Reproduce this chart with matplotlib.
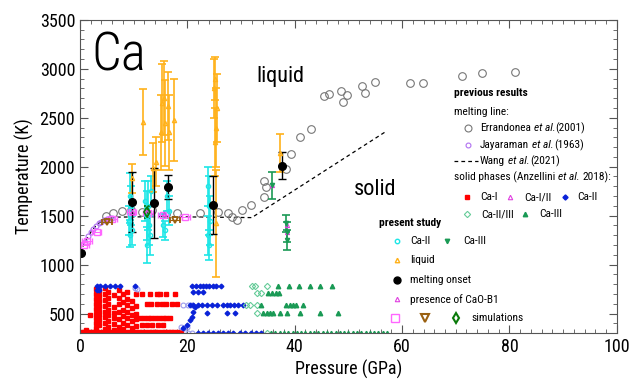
import matplotlib
matplotlib.use("Agg")
import matplotlib.pyplot as plt
from matplotlib.ticker import MultipleLocator

plt.rcParams['font.family'] = ['Roboto Condensed', 'DejaVu Sans']

# ---------------- previous results: melting line ----------------
# Errandonea et al. (2001)
erran_p = [4.8, 6.2, 7.8, 9.5, 11.5, 13.5, 16.0, 18.0, 22.3, 25.7, 27.6, 28.3, 29.2, 30.2, 31.8,
           34.3, 34.6, 34.3, 38.4, 39.4, 41.0, 43.0, 45.4, 46.4, 48.6, 49.7, 49.0, 52.5, 53.1,
           54.9, 61.5, 63.9, 71.1, 74.9, 81.0]
erran_t = [1500, 1527, 1547, 1560, 1540, 1560, 1520, 1527, 1527, 1537, 1527, 1490, 1455, 1557, 1608,
           1690, 1795, 1855, 1977, 2130, 2304, 2386, 2723, 2744, 2775, 2734, 2662, 2826, 2754,
           2867, 2856, 2856, 2928, 2958, 2969]
# Jayaraman et al. (1963)
jaya_p = [1.0, 1.5, 2.0, 2.5, 3.0, 3.5, 4.0, 4.5, 5.0, 5.5, 6.0]
jaya_t = [1230, 1290, 1330, 1365, 1395, 1420, 1440, 1455, 1465, 1475, 1480]
# Wang et al. (2021)
wang_p = [0, 1, 2, 3, 4, 5, 7, 15, 32, 57]
wang_t = [1120, 1240, 1330, 1400, 1445, 1470, 1485, 1490, 1480, 2360]

# ---------------- solid phases (Anzellini et al. 2018) ----------------
ca1_pts = (
    [(p, 310) for p in [0.2, 0.8, 1.4, 2.0, 2.6, 3.2, 3.8, 4.4, 5.0, 5.6, 6.2, 6.8, 7.4, 8.0, 8.6,
                        9.2, 9.8, 10.4, 11.0, 11.6, 12.2, 12.8, 13.4, 14.0, 14.6, 15.2, 15.8,
                        16.4, 17.0, 17.6, 18.2, 18.8]]
    + [(2.9, t) for t in [350, 400, 450, 500, 550, 600, 650, 700, 750]]
    + [(3.5, t) for t in [380, 430, 480, 530, 580, 630, 680, 730]]
    + [(4.6, t) for t in [340, 400, 460, 520, 580, 640, 700, 760]]
    + [(5.3, t) for t in [360, 420, 480, 540, 600, 660, 720]]
    + [(6.3, t) for t in [330, 390, 450, 510, 570, 690]]
    + [(7.2, t) for t in [360, 440, 520, 600, 660, 740]]
    + [(8.0, t) for t in [340, 400, 470, 540, 620, 700]]
    + [(8.8, t) for t in [380, 450, 520, 590, 650, 720]]
    + [(9.6, t) for t in [350, 420, 490, 560, 630]]
    + [(10.4, t) for t in [370, 440, 500, 580, 700]]
    + [(p, 455) for p in [11.2, 11.9, 12.6, 13.3, 14.0, 14.7, 15.4, 16.1, 16.8]]
    + [(p, 600) for p in [12.4, 13.3, 14.3, 15.2, 16.1, 17.1, 18.0]]
    + [(p, 700) for p in [11.5, 13.0, 14.3, 14.9, 16.1, 17.7]]
    + [(p, 380) for p in [11.5, 12.5, 13.5, 14.5, 15.5]]
    + [(1.9, 484), (1.2, 330)]
)
ca12_pts = [(10.7, 750), (10.2, 760), (19.2, 586), (20.2, 586), (20.8, 590), (18.9, 360),
            (19.4, 350), (19.9, 365), (20.2, 305), (20.8, 305)]
ca2_pts = (
    [(p, 780) for p in [3.1, 3.7, 4.6, 5.5, 6.5, 7.4, 10.2, 20.8, 21.7, 22.3, 22.9, 23.5, 24.1,
                        24.8, 25.4, 26.3]]
    + [(3.2, 740), (3.6, 740), (21.1, 722), (22.0, 722), (22.9, 722)]
    + [(p, 586) for p in [20.5, 21.1, 22.0, 22.7, 23.6, 24.5, 25.5, 26.7, 27.3, 27.9, 28.6,
                          29.5, 30.3]]
    + [(19.2, 348), (19.9, 382), (20.5, 433), (20.8, 467), (21.1, 518), (21.4, 569)]
    + [(23.6, 501), (27.3, 501), (28.8, 501)]
    + [(p, 303) for p in [22.0, 22.9, 23.8, 24.8, 25.7, 26.6, 27.6, 28.5, 29.8, 30.7, 31.9,
                          32.8, 33.8]]
)
ca23_pts = [(32.0, 780), (32.6, 780), (34.9, 780), (32.9, 712), (33.8, 712), (31.0, 586),
            (31.7, 586), (33.0, 586), (32.9, 508), (34.9, 300)]
ca3_pts = (
    [(p, 780) for p in [36.9, 38.9, 40.8, 42.8, 44.8, 46.9]]
    + [(p, 712) for p in [35.1, 35.7, 36.6, 37.1]]
    + [(p, 586) for p in [33.8, 38.4, 39.1, 39.7, 40.3, 41.5]]
    + [(p, 508) for p in [34.1, 34.8, 35.4, 36.0, 37.2, 38.5, 41.0, 44.7, 48.1]]
    + [(p, 305) for p in [35.6, 36.4, 37.2, 38.0, 38.8, 39.6, 40.4, 41.2, 42.0, 42.8, 43.6,
                          44.4, 45.2, 46.0, 46.8, 47.6, 48.4, 49.2, 50.0, 50.8, 51.6, 52.4,
                          53.2, 54.0, 54.8, 55.6, 56.4, 57.2]]
)

# ---------------- present study ----------------
# Ca-II (P, T, dT)
cyan_pts = [(9.3, 1700, 240), (9.5, 1600, 200), (9.2, 1450, 150), (9.6, 1350, 150), (9.4, 1300, 120),
            (12.2, 1650, 200), (12.5, 1500, 250), (12.8, 1400, 200), (13.0, 1300, 200),
            (12.4, 1200, 180), (13.3, 1750, 150), (12.6, 1600, 250),
            (16.2, 1700, 150), (16.5, 1550, 150), (15.5, 1400, 120), (15.8, 1350, 100),
            (23.8, 1800, 200), (24.0, 1600, 300), (24.2, 1450, 250), (23.9, 1300, 200),
            (24.1, 1200, 150)]
# Ca-III (P, T, dT)
ca3s_pts = [(35.8, 1810, 135), (38.4, 1420, 90), (38.6, 1330, 100), (38.5, 1250, 100)]
# liquid (P, T, dT)
liq_pts = [(15.2, 2650, 400), (15.7, 2700, 380), (16.3, 2620, 350), (15.9, 2450, 440),
           (15.0, 2350, 380), (16.6, 2350, 380), (14.1, 2050, 250), (13.6, 1990, 250),
           (17.5, 2480, 420), (11.7, 2457, 340), (9.7, 1880, 150),
           (25.2, 2900, 220), (24.9, 2800, 300), (25.6, 2600, 350), (25.3, 2400, 400),
           (25.1, 2250, 350), (25.4, 1420, 550), (37.2, 2140, 190)]
# melting onset (P, T, dT)
onset_pts = [(0.2, 1118, 0), (9.7, 1640, 310), (13.8, 1630, 360), (16.4, 1795, 125),
             (24.8, 1609, 300), (37.6, 2010, 140)]
# presence of CaO-B1
cao_pts = [(9.6, 1540), (12.5, 1540), (15.7, 1520), (35.7, 1813), (38.5, 1330), (38.6, 1400)]
# simulations
sim_sq = [(0.75, 1200), (1.3, 1240), (3.1, 1330), (5.9, 1465), (9.6, 1537), (12.7, 1527),
          (15.5, 1507), (19.6, 1486)]
sim_tri = [(5.0, 1435), (17.7, 1455)]
sim_dia = [(12.4, 1537)]

C_CYAN = '#1ee6e6'
C_ORANGE = '#ffb11a'
C_GREEN = '#1a9a55'
C_RED = '#ff0000'
C_BLUE = '#0a22d8'
C_LGREEN = '#66cc99'
C_PINK = '#e040e0'
C_MAG = '#ff66ff'
C_BROWN = '#9a6010'
C_DGREEN = '#0a7a0a'
C_GRAY = '#777777'
C_VIOLET = '#b070f0'


def xs(pts):
    return [p[0] for p in pts]


def ys(pts):
    return [p[1] for p in pts]


fig = plt.figure(figsize=(6.3, 3.82), dpi=100)
ax = fig.add_axes([0.127, 0.128, 0.852, 0.82])

# solid phases
ax.plot(xs(ca1_pts), ys(ca1_pts), 's', color=C_RED, ms=2.3, ls='none')
ax.plot(xs(ca12_pts), ys(ca12_pts), 'o', mfc='none', mec='#9a9aee', ms=3.5, mew=0.8, ls='none')
ax.plot(xs(ca2_pts), ys(ca2_pts), 'D', color=C_BLUE, ms=2.4, ls='none')
ax.plot(xs(ca23_pts), ys(ca23_pts), 'D', mfc='none', mec=C_LGREEN, ms=3.2, mew=0.8, ls='none')
ax.plot(xs(ca3_pts), ys(ca3_pts), '^', color=C_GREEN, ms=3.2, ls='none')

# melting line
ax.plot(wang_p, wang_t, color='black', lw=0.9, dashes=(3, 2.5))
ax.plot(erran_p, erran_t, 'o', mfc='none', mec=C_GRAY, ms=5.5, mew=0.8, ls='none')
ax.plot(jaya_p, jaya_t, 'o', mfc='none', mec=C_VIOLET, ms=3.5, mew=0.8, ls='none')

# present study
ax.errorbar(xs(cyan_pts), ys(cyan_pts), yerr=[p[2] for p in cyan_pts],
            fmt='o', mfc='none', mec=C_CYAN, ms=3, ecolor=C_CYAN, elinewidth=1.2, capsize=3,
            capthick=1.2)
ax.errorbar(xs(liq_pts), ys(liq_pts), yerr=[p[2] for p in liq_pts],
            fmt='^', mfc='none', mec=C_ORANGE, ms=3, ecolor=C_ORANGE, elinewidth=1.2, capsize=3,
            capthick=1.2)
ax.errorbar(xs(ca3s_pts), ys(ca3s_pts), yerr=[p[2] for p in ca3s_pts],
            fmt='v', color=C_GREEN, ms=3, ecolor=C_GREEN, elinewidth=1.2, capsize=3, capthick=1.2)
ax.plot(xs(sim_sq), ys(sim_sq), 's', mfc='none', mec=C_MAG, ms=5, mew=1.0, ls='none')
ax.errorbar(xs(sim_sq), ys(sim_sq), xerr=0.9, fmt='none', ecolor=C_MAG, elinewidth=0.8,
            capsize=2.5)
ax.errorbar(xs(sim_tri), ys(sim_tri), xerr=0.9, fmt='v', mfc='none', mec=C_BROWN, ms=5,
            mew=1.3, ecolor=C_BROWN, elinewidth=0.8, capsize=2.5)
ax.errorbar(xs(sim_dia), ys(sim_dia), yerr=60, fmt='d', mfc='none', mec=C_DGREEN, ms=5,
            mew=1.3, ecolor=C_DGREEN, elinewidth=1.0, capsize=2)
ax.errorbar(xs(onset_pts), ys(onset_pts), yerr=[p[2] for p in onset_pts],
            fmt='o', color='black', ms=5.5, ecolor='black', elinewidth=1.0, capsize=3,
            capthick=1.0)
ax.plot(xs(cao_pts), ys(cao_pts), '^', mfc='none', mec=C_PINK, ms=3, mew=0.8, ls='none')

ax.set_xlim(0, 100)
ax.set_ylim(300, 3500)
ax.xaxis.set_major_locator(MultipleLocator(20))
ax.xaxis.set_minor_locator(MultipleLocator(2))
ax.yaxis.set_major_locator(MultipleLocator(500))
ax.yaxis.set_minor_locator(MultipleLocator(100))
ax.tick_params(which='both', direction='in', top=True, right=True, color='#555555')
ax.tick_params(which='major', length=6, labelsize=13)
ax.tick_params(which='minor', length=3)
for s in ax.spines.values():
    s.set_color('#555555')
ax.set_xlabel('Pressure (GPa)', fontsize=13, labelpad=3)
ax.set_ylabel('Temperature (K)', fontsize=13, labelpad=4)

ax.text(0.022, 0.885, 'Ca', transform=ax.transAxes, fontsize=38, weight='light',
        va='center', ha='left')
ax.text(0.328, 0.818, 'liquid', transform=ax.transAxes, fontsize=16, va='center', ha='left')
ax.text(0.51, 0.457, 'solid', transform=ax.transAxes, fontsize=16, va='center', ha='left')

# legend drawn by hand
T = ax.transAxes
fs = 8.2


def rich(x, y, parts):
    # parts: list of (string, style, gap in points before it)
    prev = ax.text(x, y, parts[0][0], transform=T, fontsize=fs, style=parts[0][1], va='center')
    for s, st, gap in parts[1:]:
        prev = ax.annotate(s, xy=(1, 0.5), xycoords=prev, xytext=(gap, 0),
                           textcoords='offset points', fontsize=fs, style=st, va='center')


ax.text(0.696, 0.767, 'previous results', transform=T, fontsize=fs, weight='bold', va='center')
ax.text(0.696, 0.706, 'melting line:', transform=T, fontsize=fs, va='center')
ax.plot([0.7225], [0.655], 'o', mfc='none', mec=C_GRAY, ms=5, mew=0.8, transform=T, clip_on=False)
rich(0.745, 0.655, [('Errandonea', 'normal'), ('et al.', 'italic', 2.0), ('(2001)', 'normal', 0.3)])
ax.plot([0.7225], [0.601], 'o', mfc='none', mec=C_VIOLET, ms=3.5, mew=0.8, transform=T, clip_on=False)
rich(0.745, 0.601, [('Jayaraman', 'normal'), ('et al.', 'italic', 2.0), ('(1963)', 'normal', 0.3)])
ax.plot([0.696, 0.741], [0.5495, 0.5495], color='black', lw=0.9, dashes=(3, 2.5), transform=T,
        clip_on=False)
rich(0.745, 0.5495, [('Wang', 'normal'), ('et al.', 'italic', 2.0), ('(2021)', 'normal', 0.3)])
rich(0.696, 0.498, [('solid phases (Anzellini', 'normal'), ('et al.', 'italic', 2.0),
                    ('2018):', 'normal', 2.0)])
ax.plot([0.7207], [0.4345], 's', color=C_RED, ms=2.6, transform=T, clip_on=False)
ax.text(0.745, 0.4345, 'Ca-I', transform=T, fontsize=fs, va='center')
ax.plot([0.8007], [0.4345], '^', mfc='none', mec=C_PINK, ms=3.2, mew=0.8, transform=T, clip_on=False)
ax.text(0.8268, 0.4345, 'Ca-I/II', transform=T, fontsize=fs, va='center')
ax.plot([0.9032], [0.4345], 'D', color=C_BLUE, ms=2.6, transform=T, clip_on=False)
ax.text(0.9255, 0.4345, 'Ca-II', transform=T, fontsize=fs, va='center')
ax.plot([0.7207], [0.380], 'D', mfc='none', mec=C_LGREEN, ms=3.2, mew=0.8, transform=T, clip_on=False)
ax.text(0.748, 0.380, 'Ca-II/III', transform=T, fontsize=fs, va='center')
ax.plot([0.8287], [0.380], '^', color=C_GREEN, ms=3.2, transform=T, clip_on=False)
ax.text(0.8547, 0.380, 'Ca-III', transform=T, fontsize=fs, va='center')

ax.text(0.5568, 0.3514, 'present study', transform=T, fontsize=fs, weight='bold', va='center')
ax.plot([0.5903], [0.294], 'o', mfc='none', mec=C_CYAN, ms=3.2, mew=1.0, transform=T, clip_on=False)
ax.text(0.6145, 0.294, 'Ca-II', transform=T, fontsize=fs, va='center')
ax.plot([0.6834], [0.294], 'v', color=C_GREEN, ms=3.2, transform=T, clip_on=False)
ax.text(0.7132, 0.294, 'Ca-III', transform=T, fontsize=fs, va='center')
ax.plot([0.5903], [0.2332], '^', mfc='none', mec=C_ORANGE, ms=3.2, mew=1.0, transform=T, clip_on=False)
ax.text(0.6145, 0.2332, 'liquid', transform=T, fontsize=fs, va='center')
ax.plot([0.5903], [0.1693], 'o', color='black', ms=5, transform=T, clip_on=False)
ax.text(0.6145, 0.1693, 'melting onset', transform=T, fontsize=fs, va='center')
ax.plot([0.5903], [0.1086], '^', mfc='none', mec=C_PINK, ms=3.2, mew=0.8, transform=T, clip_on=False)
ax.text(0.6145, 0.1086, 'presence of CaO-B1', transform=T, fontsize=fs, va='center')
ax.plot([0.5866], [0.0479], 's', mfc='none', mec=C_MAG, ms=5.5, mew=1.0, transform=T, clip_on=False)
ax.plot([0.6425], [0.0479], 'v', mfc='none', mec=C_BROWN, ms=5.5, mew=1.5, transform=T, clip_on=False)
ax.plot([0.7002], [0.0479], 'd', mfc='none', mec=C_DGREEN, ms=5.5, mew=1.5, transform=T, clip_on=False)
ax.text(0.730, 0.0479, 'simulations', transform=T, fontsize=fs, va='center')

fig.savefig('out.png', dpi=100)
